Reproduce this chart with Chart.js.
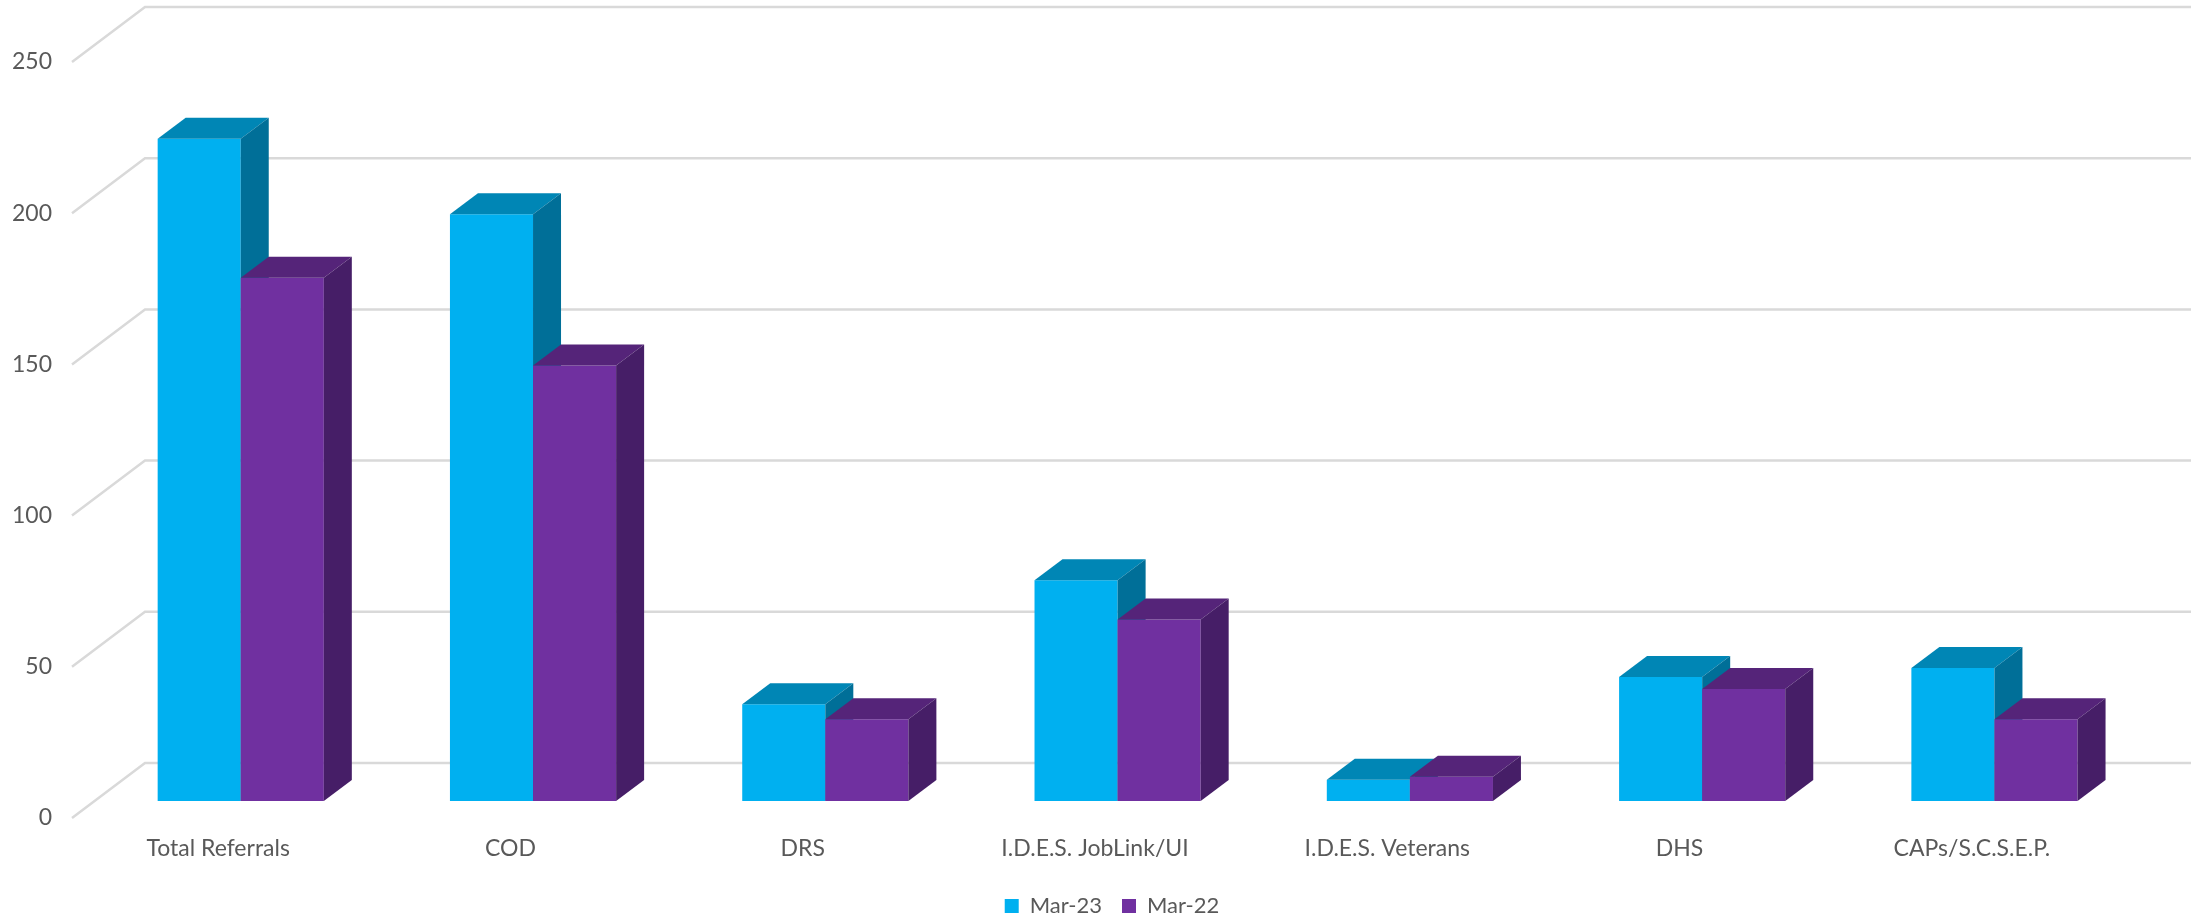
<!DOCTYPE html>
<html>
<head>
<meta charset="utf-8">
<script src="https://cdn.jsdelivr.net/npm/chart.js@4/dist/chart.umd.min.js"></script>
<style>
  html, body { margin: 0; padding: 0; background: #ffffff; overflow: hidden; }
  #c { display: block; }
</style>
</head>
<body>
<canvas id="c" width="2191" height="920" style="width:2191px;height:920px"></canvas>
<script>
// ---- data ----
const categories = ['Total Referrals', 'COD', 'DRS', 'I.D.E.S. JobLink/UI', 'I.D.E.S. Veterans', 'DHS', 'CAPs/S.C.S.E.P.'];
const seriesNames = ['Mar-23', 'Mar-22'];
const mar23 = [219, 194, 32, 73, 7, 41, 44];
const mar22 = [173, 144, 27, 60, 8, 37, 27];
const yMin = 0;
const yMax = 250;
const yStep = 50;

// ---- styling ----
const frontColors = ['#00B0F0', '#7030A0'];
const topColors = ['#0086B5', '#552479'];
const sideColors = ['#006F98', '#461E67'];
const D = { wallDx: 73, wallDy: -55, barOffDx: 22.6, barOffDy: -17, barDx: 28, barDy: -21 };
const FONT = 'Lato, "Open Sans", sans-serif';
const TEXT = '#595959';

function poly(ctx, pts) {
  ctx.beginPath();
  ctx.moveTo(pts[0][0], pts[0][1]);
  for (let i = 1; i < pts.length; i++) ctx.lineTo(pts[i][0], pts[i][1]);
  ctx.closePath();
  ctx.fill();
}

const bars3d = {
  id: 'bars3d',
  afterLayout(chart) {
    const L = chart.legend;
    if (L) {
      const shift = 1112 - (L.left + L.right) / 2;
      L.left += shift; L.right += shift;
      L.top += 7; L.bottom += 7;
    }
  },
  beforeDatasetsDraw(chart) {
    const { ctx, chartArea: a, scales: { y } } = chart;
    ctx.save();
    ctx.strokeStyle = '#D9D9D9';
    ctx.lineWidth = 2.5;
    y.ticks.forEach(t => {
      const py = y.getPixelForValue(t.value);
      ctx.beginPath();
      ctx.moveTo(a.left, py);
      ctx.lineTo(a.left + D.wallDx, py + D.wallDy);
      ctx.lineTo(a.right + D.wallDx, py + D.wallDy);
      ctx.stroke();
    });
    ctx.restore();
  },
  // skip default pass; bars are drawn below in series order so later series sit in front
  beforeDatasetDraw() { return false; },
  afterDatasetsDraw(chart) {
    const ctx = chart.ctx;
    ctx.save();
    ctx.translate(D.barOffDx, D.barOffDy);
    const n = chart.data.labels.length;
    for (let c = 0; c < n; c++) {
      chart.data.datasets.forEach((ds, i) => {
        const meta = chart.getDatasetMeta(i);
        const bar = meta.data[c];
        if (!bar) return;
        bar.draw(ctx);
        const p = bar.getProps(['x', 'y', 'base', 'width'], true);
        const l = p.x - p.width / 2, r = p.x + p.width / 2;
        ctx.fillStyle = topColors[i];
        poly(ctx, [[l, p.y], [l + D.barDx, p.y + D.barDy], [r + D.barDx, p.y + D.barDy], [r, p.y]]);
        ctx.fillStyle = sideColors[i];
        poly(ctx, [[r, p.y], [r + D.barDx, p.y + D.barDy], [r + D.barDx, p.base + D.barDy], [r, p.base]]);
      });
    }
    ctx.restore();
  }
};

new Chart(document.getElementById('c'), {
  type: 'bar',
  data: {
    labels: categories,
    datasets: [
      { label: seriesNames[0], data: mar23, backgroundColor: frontColors[0], borderWidth: 0 },
      { label: seriesNames[1], data: mar22, backgroundColor: frontColors[1], borderWidth: 0 }
    ]
  },
  options: {
    responsive: false,
    animation: false,
    events: [],
    devicePixelRatio: 1,
    layout: { padding: { top: 62, right: 73, left: 0, bottom: 0 } },
    datasets: { bar: { categoryPercentage: 0.5685, barPercentage: 1.0 } },
    scales: {
      x: {
        grid: { display: false, drawTicks: false },
        border: { display: false },
        ticks: { color: TEXT, font: { family: FONT, size: 23 }, padding: 17, maxRotation: 0, autoSkip: false },
        afterFit(s) { s.height = 50; }
      },
      y: {
        min: yMin, max: yMax,
        grid: { display: false, drawTicks: false },
        border: { display: false },
        ticks: { stepSize: yStep, color: TEXT, font: { family: FONT, size: 23 }, padding: 20 },
        afterFit(s) { s.width = 72; }
      }
    },
    plugins: {
      tooltip: { enabled: false },
      legend: {
        position: 'bottom',
        labels: { boxWidth: 14, boxHeight: 14, color: TEXT, font: { family: FONT, size: 22 }, padding: 20 }
      }
    }
  },
  plugins: [bars3d]
});
</script>
</body>
</html>
